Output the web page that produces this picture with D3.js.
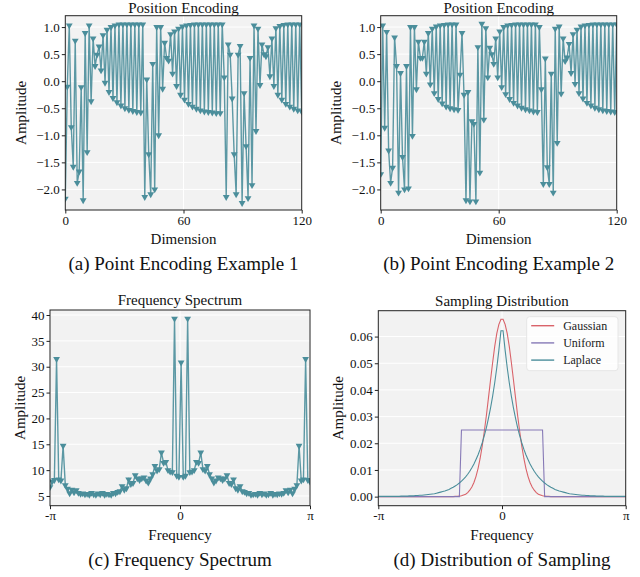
<!DOCTYPE html>
<html>
<head>
<meta charset="utf-8">
<script src="https://cdn.jsdelivr.net/npm/d3@7"></script>
<style>
body { margin: 0; background: #fff; }
svg { font-family: "Liberation Serif", "Times New Roman", serif; }
</style>
</head>
<body>
<script>
/* Position encoding values, one per dimension (120 dims, drawn on 0..120) */
var encodingA = [
  -2.17, -0.10, 1.03, -0.85, -1.58, 0.75, -1.88, -1.67, -0.11, -2.20,
  0.89, -1.31, 1.03, -0.37, 0.79, 0.28, 0.49, 0.64, 0.20, 0.85,
  -0.03, 0.95, -0.20, 1.00, -0.31, 1.03, -0.39, 1.05, -0.45, 1.05,
  -0.50, 1.05, -0.53, 1.05, -0.55, 1.05, -0.57, 1.05, -0.58, 1.05,
  -2.14, 0.03, -1.35, -2.09, 0.32, -2.00, 1.00, -1.00, 1.00, -0.14,
  0.71, 0.43, 0.38, 0.87, 0.14, 0.92, -0.09, 0.97, -0.25, 1.01,
  -0.34, 1.03, -0.42, 1.04, -0.47, 1.05, -0.51, 1.05, -0.54, 1.05,
  -0.56, 1.05, -0.57, 1.05, -0.58, 1.05, -0.59, 1.05, -0.59, 1.05,
  0.07, -2.14, 0.68, 0.49, -0.32, -1.35, -2.09, 0.49, 0.65, -2.25,
  -0.22, -1.20, -2.16, 0.43, -1.92, 1.03, -0.92, 0.97, -0.07, 0.68,
  0.50, 0.46, 0.63, 0.09, 0.79, -0.09, 0.98, -0.25, 1.02, -0.34,
  1.04, -0.42, 1.05, -0.47, 1.05, -0.51, 1.05, -0.54, 1.05, -0.56
];
var encodingB = [
  -1.72, 1.03, -0.86, 0.91, -1.28, -1.88, -1.60, 0.81, 0.28, -2.06,
  0.15, -1.40, -2.00, 0.28, -1.98, 1.00, -1.01, 1.00, -0.15, 0.73,
  0.43, 0.43, 0.73, 0.14, 0.89, -0.06, 0.97, -0.22, 1.01, -0.33,
  1.03, -0.41, 1.04, -0.47, 1.05, -0.50, 1.05, -0.52, 1.05, -0.53,
  0.12, 0.89, -0.25, -2.20, -0.20, -2.22, -0.74, -0.79, -2.22, 0.63,
  -1.69, 1.06, -0.71, 0.98, 0.07, 0.62, 0.50, 0.32, 0.79, 0.07,
  0.92, -0.11, 1.00, -0.24, 1.03, -0.33, 1.04, -0.40, 1.05, -0.45,
  1.05, -0.49, 1.05, -0.52, 1.05, -0.54, 1.05, -0.56, 1.05, -0.57,
  1.00, -0.15, -1.90, 0.42, -1.59, -1.90, 0.14, -2.06, 0.97, -1.14,
  1.01, -0.23, 0.79, 0.37, 0.44, 0.69, 0.15, 0.87, -0.05, 0.95,
  -0.22, 1.01, -0.32, 1.03, -0.40, 1.04, -0.45, 1.05, -0.49, 1.05,
  -0.52, 1.05, -0.54, 1.05, -0.55, 1.05, -0.56, 1.05, -0.57, 1.05
];

/* Frequency spectrum magnitude, 120 bins from -pi to pi */
var spectrum = [
  6.7, 7.8, 8.1, 31.5, 8.2, 8.0, 14.7, 7.1, 6.4, 5.5,
  6.2, 5.7, 6.1, 5.6, 5.4, 5.5, 5.3, 5.4, 5.2, 5.6,
  5.3, 5.2, 5.5, 5.3, 5.6, 5.2, 5.4, 5.3, 5.2, 5.6,
  5.5, 5.8, 5.9, 6.9, 6.2, 6.5, 8.2, 7.3, 7.5, 9.0,
  8.4, 8.1, 8.4, 8.6, 8.0, 7.6, 8.4, 9.2, 10.8, 9.9,
  10.2, 13.4, 11.4, 11.6, 10.0, 9.7, 9.6, 39.3, 8.9, 8.7,
  30.8, 8.7, 8.9, 39.3, 9.6, 9.7, 10.0, 11.6, 11.4, 13.4,
  10.2, 9.9, 10.8, 9.2, 8.4, 7.6, 8.0, 8.6, 8.4, 8.1,
  8.4, 9.0, 7.5, 7.3, 8.2, 6.5, 6.2, 6.9, 5.9, 5.8,
  5.5, 5.6, 5.2, 5.3, 5.4, 5.2, 5.6, 5.3, 5.5, 5.2,
  5.3, 5.6, 5.2, 5.4, 5.3, 5.5, 5.4, 5.6, 6.1, 5.7,
  6.2, 5.5, 6.4, 7.1, 14.7, 8.0, 8.2, 31.5, 8.1, 7.8
];

/* Sampling distributions, 120 points from -pi to pi */
var gaussian = [
  0, 0, 0, 0, 0, 0, 0, 0, 0, 0,
  0, 0, 0, 0, 0, 0, 0, 0, 0, 0,
  0, 0, 0, 0, 0, 0, 0, 0, 0, 0,
  0, 0, 0, 0, 0, 0, 0, 0.0001, 0.0001, 0.0002,
  0.0003, 0.0006, 0.0009, 0.0015, 0.0024, 0.0036, 0.0053, 0.0076, 0.0106, 0.0144,
  0.0190, 0.0245, 0.0305, 0.0371, 0.0438, 0.0503, 0.0563, 0.0612, 0.0646, 0.0665,
  0.0665, 0.0646, 0.0612, 0.0563, 0.0503, 0.0438, 0.0371, 0.0305, 0.0245, 0.0190,
  0.0144, 0.0106, 0.0076, 0.0053, 0.0036, 0.0024, 0.0015, 0.0009, 0.0006, 0.0003,
  0.0002, 0.0001, 0.0001, 0, 0, 0, 0, 0, 0, 0,
  0, 0, 0, 0, 0, 0, 0, 0, 0, 0,
  0, 0, 0, 0, 0, 0, 0, 0, 0, 0,
  0, 0, 0, 0, 0, 0, 0, 0, 0, 0
];
var uniform = [
  0, 0, 0, 0, 0, 0, 0, 0, 0, 0,
  0, 0, 0, 0, 0, 0, 0, 0, 0, 0,
  0, 0, 0, 0, 0, 0, 0, 0, 0, 0,
  0, 0, 0, 0, 0, 0, 0, 0, 0, 0,
  0.025, 0.025, 0.025, 0.025, 0.025, 0.025, 0.025, 0.025, 0.025, 0.025,
  0.025, 0.025, 0.025, 0.025, 0.025, 0.025, 0.025, 0.025, 0.025, 0.025,
  0.025, 0.025, 0.025, 0.025, 0.025, 0.025, 0.025, 0.025, 0.025, 0.025,
  0.025, 0.025, 0.025, 0.025, 0.025, 0.025, 0.025, 0.025, 0.025, 0.025,
  0, 0, 0, 0, 0, 0, 0, 0, 0, 0,
  0, 0, 0, 0, 0, 0, 0, 0, 0, 0,
  0, 0, 0, 0, 0, 0, 0, 0, 0, 0,
  0, 0, 0, 0, 0, 0, 0, 0, 0, 0
];
var laplace = [
  0.0001, 0.0001, 0.0001, 0.0001, 0.0001, 0.0001, 0.0001, 0.0001, 0.0001, 0.0001,
  0.0001, 0.0002, 0.0002, 0.0002, 0.0002, 0.0003, 0.0003, 0.0003, 0.0004, 0.0004,
  0.0005, 0.0005, 0.0006, 0.0007, 0.0008, 0.0009, 0.0010, 0.0011, 0.0013, 0.0015,
  0.0017, 0.0019, 0.0021, 0.0024, 0.0027, 0.0031, 0.0035, 0.0040, 0.0045, 0.0051,
  0.0058, 0.0066, 0.0074, 0.0084, 0.0095, 0.0108, 0.0122, 0.0139, 0.0157, 0.0178,
  0.0202, 0.0229, 0.0259, 0.0294, 0.0333, 0.0377, 0.0427, 0.0484, 0.0549, 0.0622,
  0.0622, 0.0549, 0.0484, 0.0427, 0.0377, 0.0333, 0.0294, 0.0259, 0.0229, 0.0202,
  0.0178, 0.0157, 0.0139, 0.0122, 0.0108, 0.0095, 0.0084, 0.0074, 0.0066, 0.0058,
  0.0051, 0.0045, 0.0040, 0.0035, 0.0031, 0.0027, 0.0024, 0.0021, 0.0019, 0.0017,
  0.0015, 0.0013, 0.0011, 0.0010, 0.0009, 0.0008, 0.0007, 0.0006, 0.0005, 0.0005,
  0.0004, 0.0004, 0.0003, 0.0003, 0.0003, 0.0002, 0.0002, 0.0002, 0.0002, 0.0001,
  0.0001, 0.0001, 0.0001, 0.0001, 0.0001, 0.0001, 0.0001, 0.0001, 0.0001, 0.0001
];

/* Tick values and labels */
var encYTicks = [-2.0, -1.5, -1.0, -0.5, 0.0, 0.5, 1.0];
var dimTickLabels = ['0', '60', '120'];
var specYTicks = [5, 10, 15, 20, 25, 30, 35, 40];
var distYTicks = [0.00, 0.01, 0.02, 0.03, 0.04, 0.05, 0.06];
var freqTickLabels = ['-\u03c0', '0', '\u03c0'];
var distNames = ['Gaussian', 'Uniform', 'Laplace'];

var teal = '#4b8e9b';
var distColors = ['#d9636a', '#8679b6', '#4b8e9b'];

var svg = d3.select('body').append('svg')
    .attr('width', 640)
    .attr('height', 577);

var minus = function (s) { return s.replace('-', '\u2212'); };

/* Draws the frame, grid, axes and texts of one panel, returns its scales */
function drawPanel(p) {
    var x = d3.scaleLinear().domain([0, 119]).range([p.left, p.right]);
    var y = d3.scaleLinear().domain(p.yDomain).range([p.bottom, p.top]);
    var xTicks = [0, 59.5, 119];
    var g = svg.append('g');

    g.append('rect')
        .attr('x', p.left).attr('y', p.top)
        .attr('width', p.right - p.left).attr('height', p.bottom - p.top)
        .attr('fill', '#f2f2f2');

    g.selectAll('.gy').data(p.yTicks).enter().append('line')
        .attr('x1', p.left).attr('x2', p.right)
        .attr('y1', function (d) { return y(d); })
        .attr('y2', function (d) { return y(d); })
        .attr('stroke', '#fff').attr('stroke-width', 1);
    g.selectAll('.gx').data(xTicks).enter().append('line')
        .attr('y1', p.top).attr('y2', p.bottom)
        .attr('x1', function (d) { return x(d); })
        .attr('x2', function (d) { return x(d); })
        .attr('stroke', '#fff').attr('stroke-width', 1);

    var clipId = 'clip' + p.id;
    svg.append('clipPath').attr('id', clipId).append('rect')
        .attr('x', p.left).attr('y', p.top)
        .attr('width', p.right - p.left).attr('height', p.bottom - p.top);
    var plot = g.append('g').attr('clip-path', 'url(#' + clipId + ')');

    var xAxis = g.append('g')
        .attr('transform', 'translate(0,' + p.bottom + ')')
        .call(d3.axisBottom(x).tickValues(xTicks)
              .tickFormat(function (d, i) { return p.xLabels[i]; })
              .tickSize(3.5).tickSizeOuter(0).tickPadding(2));
    var yAxis = g.append('g')
        .attr('transform', 'translate(' + p.left + ',0)')
        .call(d3.axisLeft(y).tickValues(p.yTicks)
              .tickFormat(function (d) { return minus(d3.format(p.yFormat)(d)); })
              .tickSize(3.5).tickSizeOuter(0).tickPadding(2));
    [xAxis, yAxis].forEach(function (a) {
        a.attr('font-family', null).attr('font-size', null);
        a.select('.domain').remove();
        a.selectAll('line').attr('stroke', '#222');
        a.selectAll('text').attr('fill', '#111').style('font-size', '13px');
    });

    g.append('rect')
        .attr('x', p.left).attr('y', p.top)
        .attr('width', p.right - p.left).attr('height', p.bottom - p.top)
        .attr('fill', 'none').attr('stroke', '#222').attr('stroke-width', 1);

    var cx = (p.left + p.right) / 2;
    svg.append('text').attr('x', cx).attr('y', p.top - p.titleGap)
        .attr('text-anchor', 'middle').style('font-size', '15px').attr('fill', '#111')
        .text(p.title);
    svg.append('text').attr('x', cx).attr('y', p.bottom + 34)
        .attr('text-anchor', 'middle').style('font-size', '15px').attr('fill', '#111')
        .text(p.xTitle);
    svg.append('text').attr('x', cx).attr('y', p.bottom + 60)
        .attr('text-anchor', 'middle').style('font-size', '19px').attr('fill', '#111')
        .text(p.caption);
    svg.append('text')
        .attr('transform', 'translate(' + p.yTitleX + ',' + ((p.top + p.bottom) / 2) + ') rotate(-90)')
        .attr('text-anchor', 'middle').attr('dy', '0.35em')
        .style('font-size', '15px').attr('fill', '#111')
        .text('Amplitude');

    return {x: x, y: y, plot: plot};
}

/* Line with downward triangle markers */
function drawMarkedLine(s, values) {
    var line = d3.line()
        .x(function (d, i) { return s.x(i); })
        .y(function (d) { return s.y(d); });
    s.plot.append('path').datum(values)
        .attr('d', line).attr('fill', 'none')
        .attr('stroke', teal).attr('stroke-width', 1.4).attr('stroke-opacity', 0.9);
    var tri = d3.symbol().type(d3.symbolTriangle).size(20);
    s.plot.selectAll('.mk').data(values).enter().append('path')
        .attr('d', tri)
        .attr('transform', function (d, i) {
            return 'translate(' + s.x(i) + ',' + s.y(d) + ') rotate(180)';
        })
        .attr('fill', teal);
}

var pa = drawPanel({id: 'a', left: 65.3, right: 301.7, top: 15.7, bottom: 210, titleGap: 3.2,
    yDomain: [-2.38, 1.21], yTicks: encYTicks, yFormat: '.1f', xLabels: dimTickLabels,
    title: 'Position Encoding', xTitle: 'Dimension', caption: '(a) Point Encoding Example 1', yTitleX: 21});
drawMarkedLine(pa, encodingA);

var pb = drawPanel({id: 'b', left: 380.7, right: 616.7, top: 15.7, bottom: 210, titleGap: 3.2,
    yDomain: [-2.38, 1.21], yTicks: encYTicks, yFormat: '.1f', xLabels: dimTickLabels,
    title: 'Position Encoding', xTitle: 'Dimension', caption: '(b) Point Encoding Example 2', yTitleX: 336});
drawMarkedLine(pb, encodingB);

var pc = drawPanel({id: 'c', left: 50, right: 310, top: 310, bottom: 505.7, titleGap: 5,
    yDomain: [3.12, 40.97], yTicks: specYTicks, yFormat: 'd', xLabels: freqTickLabels,
    title: 'Frequency Spectrum', xTitle: 'Frequency', caption: '(c) Frequency Spectrum', yTitleX: 20});
drawMarkedLine(pc, spectrum);

var pd = drawPanel({id: 'd', left: 378.3, right: 625.7, top: 310.7, bottom: 505.7, titleGap: 5,
    yDomain: [-0.0034, 0.0697], yTicks: distYTicks, yFormat: '.2f', xLabels: freqTickLabels,
    title: 'Sampling Distribution', xTitle: 'Frequency', caption: '(d) Distribution of Sampling', yTitleX: 338});

var distLine = d3.line()
    .x(function (d, i) { return pd.x(i); })
    .y(function (d) { return pd.y(d); });
[gaussian, uniform, laplace].forEach(function (vals, k) {
    pd.plot.append('path').datum(vals)
        .attr('d', distLine).attr('fill', 'none')
        .attr('stroke', distColors[k]).attr('stroke-width', 1.1);
});

/* Legend */
var legend = svg.append('g').attr('transform', 'translate(526.7,316.7)');
legend.append('rect').attr('width', 91.3).attr('height', 54).attr('rx', 3)
    .attr('fill', '#fff').attr('fill-opacity', 0.8).attr('stroke', '#e6e6e6');
distNames.forEach(function (name, k) {
    var ly = 9 + k * 17.2;
    legend.append('line').attr('x1', 4.5).attr('x2', 27.5).attr('y1', ly).attr('y2', ly)
        .attr('stroke', distColors[k]).attr('stroke-width', 1.4);
    legend.append('text').attr('x', 36.5).attr('y', ly).attr('dy', '0.35em')
        .style('font-size', '12px').attr('fill', '#222').text(name);
});
</script>
</body>
</html>
